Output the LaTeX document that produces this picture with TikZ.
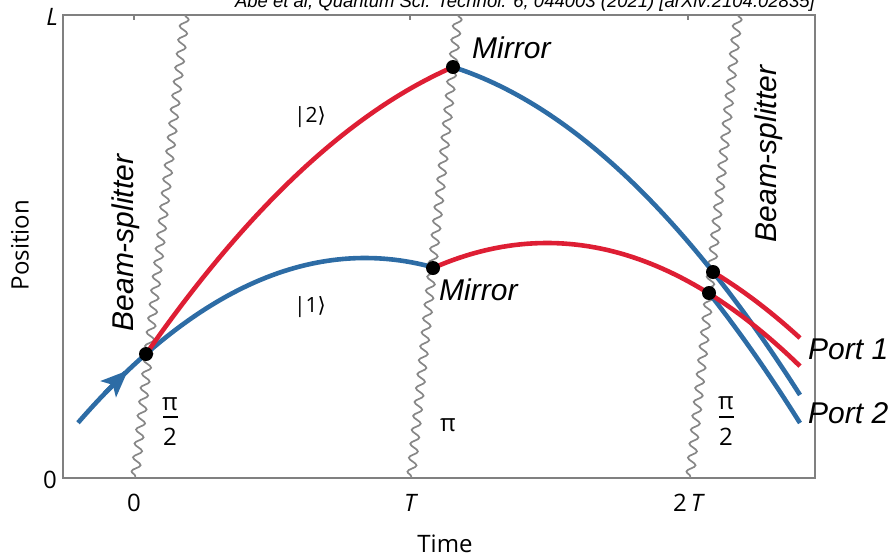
\documentclass[tikz,border=0pt]{standalone}
\usepackage{fontspec}
\setmainfont{Liberation Sans}
\newfontfamily\axisfont{Open Sans}
\newfontfamily\djv{DejaVu Sans}
\usetikzlibrary{decorations.pathmorphing,arrows.meta}
\definecolor{pathred}{RGB}{222,30,52}
\definecolor{pathblue}{RGB}{45,108,165}
\definecolor{framegray}{RGB}{128,128,128}
\definecolor{wavegray}{RGB}{135,135,135}
\begin{document}
\begin{tikzpicture}[x=1pt,y=-1pt,
  redpath/.style={pathred,line width=4.6pt},
  bluepath/.style={pathblue,line width=4.6pt},
  wave/.style={wavegray,line width=1.7pt,decorate,decoration={snake,segment length=14pt,amplitude=4.2pt}},
  dot/.style={circle,fill=black,inner sep=0pt,minimum size=14pt},
  lbl/.style={inner sep=0pt,font=\fontsize{30}{30}\selectfont\itshape},
  axlbl/.style={inner sep=0pt,font=\fontsize{24}{24}\selectfont\axisfont},
  fr/.style={inner sep=0pt,font=\fontsize{24}{24}\selectfont\axisfont},
  ket/.style={inner sep=0pt,font=\fontsize{21}{21}\selectfont\axisfont},
  barline/.style={black,line width=1.3pt}]
\useasboundingbox (0,0) rectangle (894,558);

% header
\node[inner sep=0pt,anchor=base east,font=\fontsize{18.5}{18.5}\selectfont\itshape] (hdr) at (815,7) {Abe et al, Quantum Sci. Technol. 6, 044003 (2021) [arXiv:2104.02835]};

% frame
\draw[framegray,line width=1.5pt] (63,15) rectangle (815,478);
\foreach \tx/\nm in {134/ta,410/tb,688/tc}{
  \coordinate (\nm1) at (\tx,15);
  \coordinate (\nm2) at (\tx,20);
  \draw[framegray,line width=1.3pt] (\nm1) -- (\nm2);
}

% wave lines
\coordinate (w1t) at (185,15); \coordinate (w1b) at (135,478);
\coordinate (w2t) at (458,15); \coordinate (w2b) at (411,478);
\coordinate (w3t) at (738,15); \coordinate (w3b) at (690,478);
\draw[wave] (w1t) -- (w1b);
\draw[wave] (w2t) -- (w2b);
\draw[wave] (w3t) -- (w3b);

% blue paths
\draw[bluepath] plot[domain=105:433,samples=60] (\x,{258+((\x-365)/22.36)^2});
\draw[bluepath,-{Stealth[length=27pt,width=22pt,inset=6pt]}] plot[domain=78:128,samples=20] (\x,{258+((\x-365)/22.36)^2});
\draw[bluepath] plot[domain=453:800,samples=60] (\x,{52.8+((\x-364.2)/23.56)^2});
\draw[bluepath] plot[domain=709:800,samples=30] (\x,{70.7+((\x-357.6)/23.57)^2});

% red paths
\draw[redpath] plot[domain=146:453,samples=60] (\x,{37.9+((\x-586.8)/24.79)^2});
\draw[redpath] plot[domain=433:800,samples=60] (\x,{243+((\x-547)/22.8)^2});
\draw[redpath] plot[domain=713:800,samples=30] (\x,{221.7+((\x-545.8)/23.57)^2});

% dots
\node[dot] (bs1dot) at (146,354) {};
\node[dot] (m1dot) at (453,67) {};
\node[dot] (m2dot) at (433,268) {};
\node[dot] (bs2a) at (713,272) {};
\node[dot] (bs2b) at (709,293) {};

% italic labels
\node[lbl,rotate=90] (bs1lbl) at (126,243) {Beam-splitter};
\node[lbl,rotate=90] (bs2lbl) at (769,154) {Beam-splitter};
\node[lbl,anchor=base west] (m1lbl) at (472,58) {Mirror};
\node[lbl,anchor=base west] (m2lbl) at (439,300) {Mirror};
\node[lbl,anchor=base west] (p1lbl) at (808,359) {Port 1};
\node[lbl,anchor=base west] (p2lbl) at (808,423) {Port 2};

% kets
\node[ket] (k2) at (310,117) {|2{\djv ⟩}};
\node[ket] (k1) at (310,307) {|1{\djv ⟩}};

% phases
\node[fr] (f1a) at (170,404) {π};
\coordinate (f1l) at (163,417); \coordinate (f1r) at (178,417);
\draw[barline] (f1l) -- (f1r);
\node[fr] (f1b) at (170,437) {2};
\node[fr] (f2) at (448,425) {π};
\node[fr] (f3a) at (726,403) {π};
\coordinate (f3l) at (719,417); \coordinate (f3r) at (734,417);
\draw[barline] (f3l) -- (f3r);
\node[fr] (f3b) at (726,437) {2};

% axes labels
\node[axlbl,anchor=base] (x0) at (134,511) {0};
\node[axlbl,anchor=base] (xT) at (410,511) {\itshape T};
\node[axlbl,anchor=base] (x2T) at (688,511) {2\,\itshape T};
\node[axlbl,anchor=base] (xlab) at (445,552) {Time};
\node[axlbl,anchor=base east] (y0) at (57,488) {0};
\node[axlbl,anchor=base east] (yL) at (58,25) {\itshape L};
\node[axlbl,rotate=90] (ylab) at (20,245) {Position};
\end{tikzpicture}
\end{document}
